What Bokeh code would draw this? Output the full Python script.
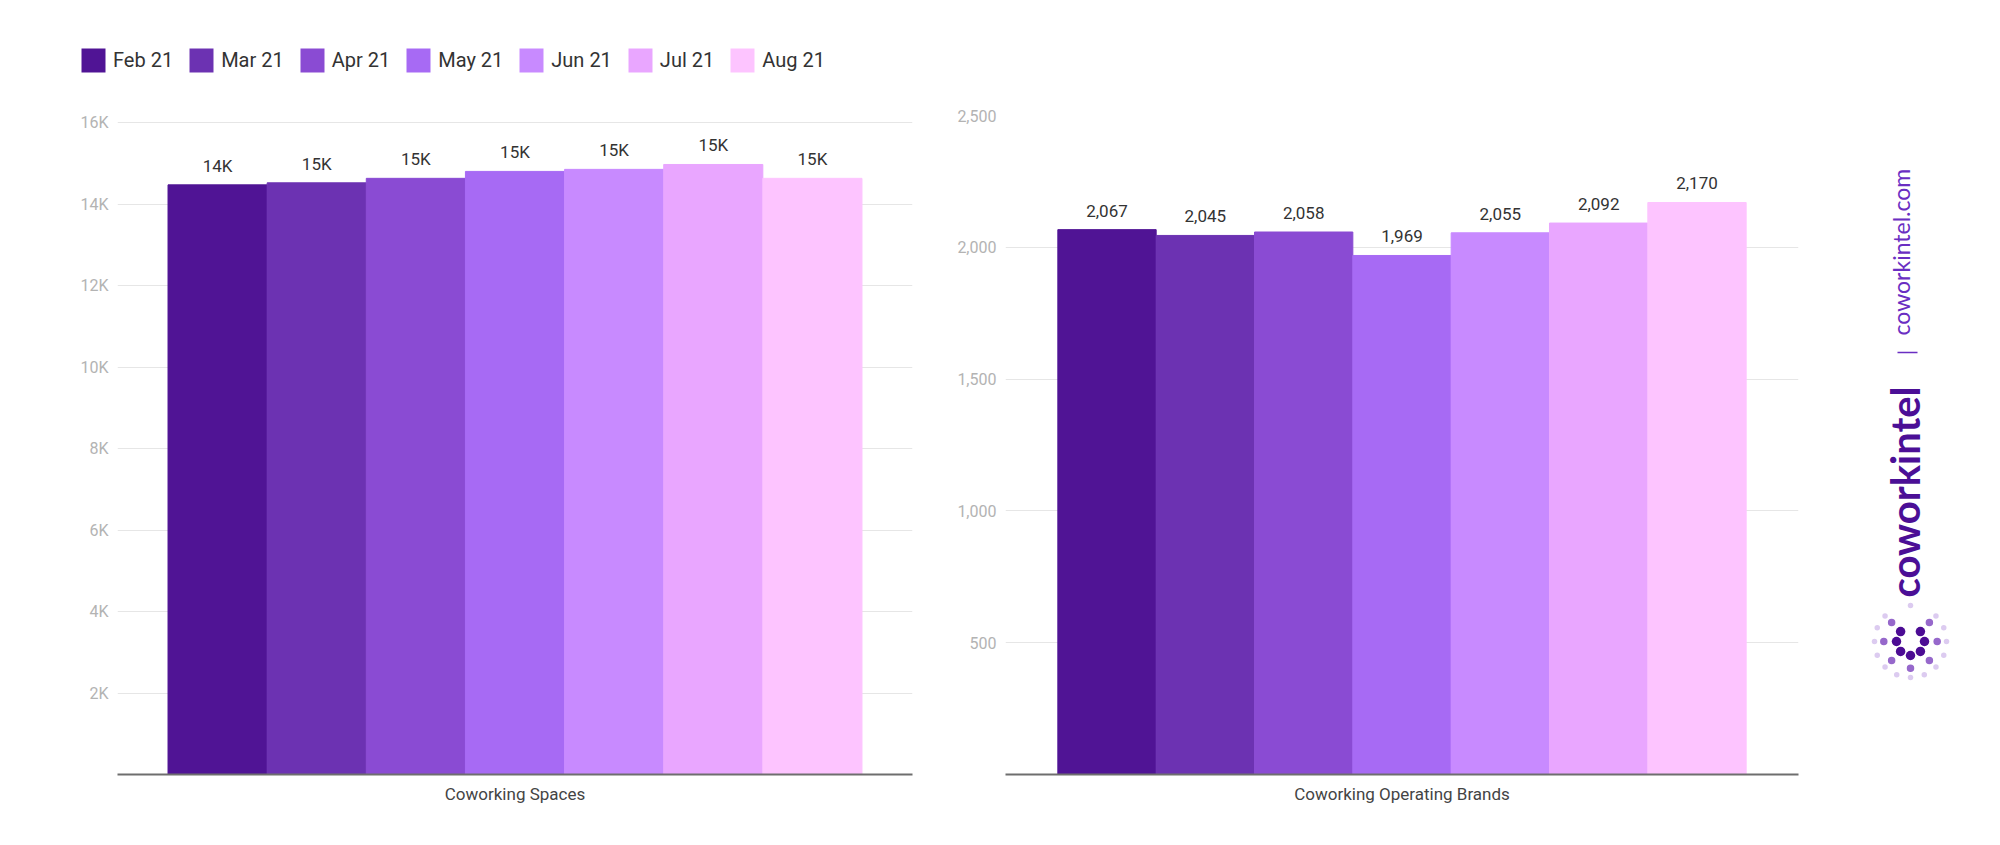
import numpy as np
from bokeh.plotting import figure
from bokeh.models import (ColumnDataSource, FactorRange, Range1d, FixedTicker,
                          Legend, LegendItem)
from bokeh.transform import dodge
from bokeh.layouts import row, column
from bokeh.core.properties import value
from bokeh.embed import file_html
from bokeh.resources import INLINE

# ---------------- data ----------------
months = ["Feb 21", "Mar 21", "Apr 21", "May 21", "Jun 21", "Jul 21", "Aug 21"]
colors = ["#501495", "#6c32b2", "#8a4bd3", "#a76af4", "#c88aff", "#e9a6ff", "#fdc4ff"]
spaces = [14470, 14520, 14630, 14800, 14850, 14970, 14630]
brands = [2067, 2045, 2058, 1969, 2055, 2092, 2170]
space_ticks = [2000, 4000, 6000, 8000, 10000, 12000, 14000, 16000]
space_tick_labels = ["2K", "4K", "6K", "8K", "10K", "12K", "14K", "16K"]
brand_ticks = [500, 1000, 1500, 2000, 2500]
brand_tick_labels = ["500", "1,000", "1,500", "2,000", "2,500"]
categories = ["Coworking Spaces", "Coworking Operating Brands"]

space_labels = [f"{round(v / 1000)}K" for v in spaces]
brand_labels = [f"{v:,}" for v in brands]

# logo geometry (decorative)
logo_inner_angles = [0, 45, 135, 180, 225, 270, 315]
logo_middle_angles = [0, 45, 135, 180, 225, 270, 315]
logo_outer_angles = [0, 22.5, 45, 90, 135, 157.5, 180, 202.5, 225, 247.5, 270, 292.5, 315, 337.5]

LH = 90        # legend strip height
H = 745        # chart row height (page y from LH to LH+H)
TOP = 115      # frame top (page px)
BOT = 774      # frame bottom (page px)
FONT = "Roboto"


def make_chart(cat, vals, labels, ticks, tick_labels, ymax, width,
               mbl, mbr, barw):
    p = figure(x_range=FactorRange(cat), y_range=Range1d(0, ymax),
               width=width, height=H, output_backend="svg", toolbar_location=None,
               min_border_left=mbl, min_border_right=mbr,
               min_border_top=TOP - LH, min_border_bottom=LH + H - BOT)
    p.outline_line_color = None
    p.background_fill_color = "white"
    p.border_fill_color = "white"
    p.xgrid.visible = False
    p.ygrid.ticker = FixedTicker(ticks=ticks)
    p.ygrid.grid_line_color = "#e6e6e6"
    p.ygrid.grid_line_width = 1

    ya = p.yaxis[0]
    ya.ticker = FixedTicker(ticks=ticks)
    ya.major_label_overrides = dict(zip(ticks, tick_labels))
    ya.axis_line_color = None
    ya.major_tick_line_color = None
    ya.minor_tick_line_color = None
    ya.major_tick_out = 0
    ya.major_tick_in = 0
    ya.major_label_standoff = 9
    ya.major_label_text_font = FONT
    ya.major_label_text_font_size = "16px"
    ya.major_label_text_color = "#b3b3b3"

    xa = p.xaxis[0]
    xa.axis_line_color = "#6e6e6e"
    xa.axis_line_width = 2
    xa.major_tick_line_color = None
    xa.minor_tick_line_color = None
    xa.major_tick_out = 0
    xa.major_tick_in = 0
    xa.major_label_standoff = 9
    xa.major_label_text_font = FONT
    xa.major_label_text_font_size = "17px"
    xa.major_label_text_color = "#444444"

    n = len(vals)
    for i, (v, c, lab) in enumerate(zip(vals, colors, labels)):
        off = (i - (n - 1) / 2) * barw
        src = ColumnDataSource(dict(x=[cat], top=[v], label=[lab]))
        p.vbar(x=dodge("x", off, range=p.x_range), top="top", bottom=0,
               width=barw, source=src, fill_color=c, line_color=c, line_width=1)
        p.text(x=dodge("x", off, range=p.x_range), y="top", text="label",
               source=src, text_font=value(FONT), text_font_size="17px",
               text_color="#333333", text_align="center",
               text_baseline="alphabetic", y_offset=-19)
    return p


# left: 16K gridline sits 7px below the frame top
left = make_chart(categories[0], spaces, space_labels, space_ticks,
                  space_tick_labels, 16172, 940, 117, 28, 0.1247)
right = make_chart(categories[1], brands, brand_labels, brand_ticks,
                   brand_tick_labels, 2500, 900, 65, 42, 0.124)

# ---------------- legend strip ----------------
lf = figure(width=940, height=LH, x_range=Range1d(0, 1), y_range=Range1d(0, 1),
            output_backend="svg", toolbar_location=None, min_border=0,
            x_axis_type=None, y_axis_type=None)
lf.outline_line_color = None
lf.grid.visible = False
items = []
for m, c in zip(months, colors):
    r = lf.vbar(x=[-10], top=[-5], bottom=[-6], width=0.01, fill_color=c, line_color=None)
    items.append(LegendItem(label=m, renderers=[r]))
legend = Legend(items=items, location=(78, LH - 75), orientation="horizontal",
                glyph_width=30, glyph_height=30, label_standoff=5, spacing=13,
                padding=0, margin=0, border_line_color=None,
                background_fill_alpha=0, label_text_font=FONT,
                label_text_font_size="20px", label_text_color="#333333")
lf.add_layout(legend, "center")

# ---------------- logo ----------------
lg = figure(width=144, height=H, x_range=Range1d(1840, 1984), y_range=Range1d(BOT, TOP),
            output_backend="svg", toolbar_location=None,
            min_border_left=0, min_border_right=0,
            min_border_top=TOP - LH, min_border_bottom=LH + H - BOT,
            x_axis_type=None, y_axis_type=None)
lg.outline_line_color = None
lg.grid.visible = False

lg.text(x=[1900], y=[335], text=["coworkintel.com"], angle=np.pi / 2,
        text_font=value("Lato"), text_font_size="23px", text_color="#6a2ec2",
        text_align="left", text_baseline="alphabetic")
lg.segment(x0=[1897], x1=[1917], y0=[352], y1=[352], line_color="#6a2ec2", line_width=1.5)
lg.text(x=[1904], y=[597], text=["coworkintel"], angle=np.pi / 2,
        text_font=value("Lato"), text_font_size="40px", text_font_style="bold",
        text_color="#4b0f96", text_align="left", text_baseline="alphabetic")

cx, cy = 1910, 641
for angles, rad, size, col in [(logo_outer_angles, 36, 5.5, "#dccbf0"),
                               (logo_middle_angles, 26.7, 7.5, "#9668cb"),
                               (logo_inner_angles, 14, 9.5, "#4c0c94")]:
    a = np.deg2rad(np.array(angles))
    lg.scatter(x=cx + rad * np.cos(a), y=cy - rad * np.sin(a), size=size,
               fill_color=col, line_color=None)

layout = column(lf, row(left, right, lg))
open("out.html", "w").write(file_html(layout, INLINE))
